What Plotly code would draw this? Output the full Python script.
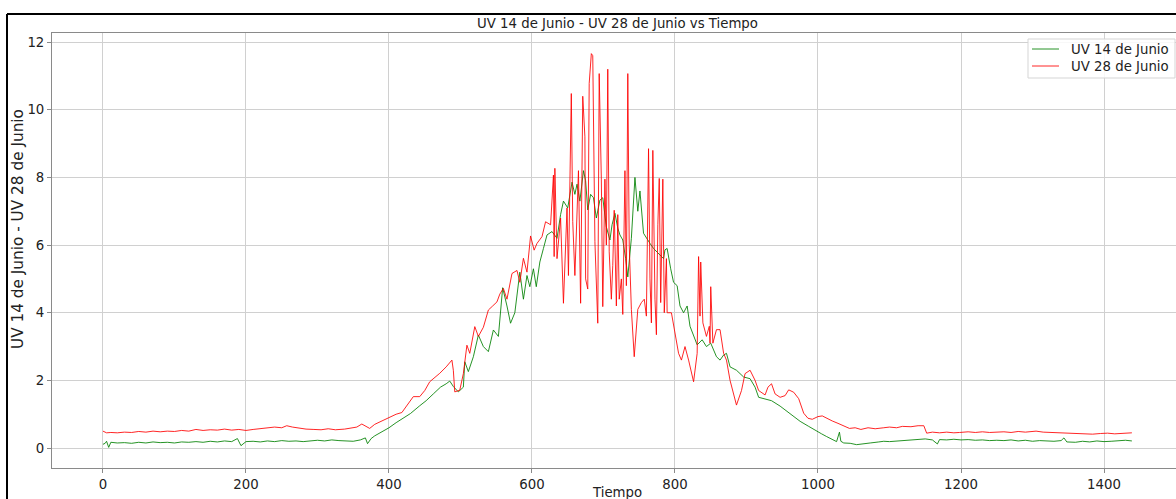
import plotly.graph_objects as go

# ---- data ----
tiempo_14 = [0, 3, 5, 8, 11, 20, 30, 40, 50, 60, 70, 80, 90, 100, 110, 120, 130, 140, 150, 160, 170, 180, 188, 193,
             200, 210, 220, 230, 240, 250, 260, 270, 280, 290, 300, 310, 320, 330, 340, 350, 360, 367, 370, 375,
             380, 390, 400, 410, 420, 430, 443, 452, 462, 472, 480, 485, 490, 497, 504, 506, 511, 518, 525, 532,
             539, 546, 553, 559, 565, 570, 576, 583, 588, 593, 597, 602, 606, 611, 616, 621, 628, 635, 640, 644,
             650, 656, 660, 663, 667, 672, 675, 678, 682, 686, 690, 695, 699, 704, 709, 712, 716, 720, 723, 727,
             731, 734, 739, 744, 748, 751, 756, 760, 765, 770, 777, 784, 786, 789, 794, 798, 803, 807, 812, 817,
             821, 826, 831, 838, 844, 850, 854, 858, 863, 868, 872, 877, 886, 896, 905, 912, 917, 926, 935, 947,
             956, 966, 975, 987, 998, 1005, 1012, 1020, 1026, 1030, 1032, 1036, 1045, 1054, 1062, 1073, 1085, 1092,
             1100, 1110, 1120, 1130, 1140, 1150, 1160, 1167, 1170, 1180, 1190, 1200, 1210, 1220, 1230, 1240, 1250,
             1260, 1270, 1280, 1290, 1300, 1310, 1320, 1330, 1340, 1344, 1348, 1360, 1370, 1380, 1390, 1400, 1410,
             1420, 1430, 1439]
uv_14 = [0.11, 0.14, 0.2, 0.02, 0.17, 0.15, 0.16, 0.14, 0.17, 0.15, 0.18, 0.16, 0.17, 0.15, 0.18, 0.17, 0.19, 0.17,
         0.2, 0.18, 0.21, 0.19, 0.28, 0.07, 0.19, 0.2, 0.18, 0.21, 0.19, 0.22, 0.2, 0.21, 0.19, 0.22, 0.23, 0.21,
         0.24, 0.22, 0.21, 0.2, 0.24, 0.3, 0.13, 0.28, 0.36, 0.48, 0.6, 0.75, 0.88, 1.02, 1.25, 1.4, 1.6, 1.8, 1.9,
         1.98, 1.82, 1.66, 1.8, 2.55, 2.26, 2.7, 3.34, 3.0, 2.85, 3.49, 3.3, 4.74, 4.2, 3.69, 4.0, 5.2, 4.4, 5.1,
         4.77, 5.3, 4.77, 5.5, 5.9, 6.3, 6.4, 6.2, 6.9, 7.3, 7.1, 7.86, 7.5, 7.8, 7.3, 8.2, 7.9, 7.04, 7.5, 7.4,
         6.8, 7.33, 7.4, 6.54, 6.15, 6.6, 6.94, 6.5, 6.3, 6.15, 5.6, 5.06, 6.2, 8.0, 7.0, 7.6, 6.35, 6.2, 6.05,
         5.9, 5.75, 5.6, 5.86, 5.9, 5.3, 4.9, 4.8, 4.2, 4.0, 4.2, 3.6, 3.3, 3.05, 3.2, 3.0, 3.1, 2.9, 2.7, 2.6,
         2.75, 2.8, 2.4, 2.3, 2.1, 2.05, 1.8, 1.5, 1.45, 1.4, 1.24, 1.1, 0.94, 0.79, 0.64, 0.49, 0.42, 0.34, 0.26,
         0.19, 0.47, 0.2, 0.15, 0.14, 0.1, 0.13, 0.15, 0.18, 0.2, 0.19, 0.21, 0.22, 0.24, 0.25, 0.27, 0.24, 0.12,
         0.25, 0.24, 0.26, 0.24, 0.25, 0.23, 0.24, 0.22, 0.23, 0.22, 0.24, 0.21, 0.23, 0.2, 0.22, 0.21, 0.2, 0.22,
         0.3, 0.18, 0.17, 0.2, 0.18, 0.21, 0.19, 0.2, 0.21, 0.23, 0.21]

tiempo_28 = [0, 5, 11, 20, 30, 40, 50, 60, 70, 80, 90, 100, 110, 120, 130, 140, 150, 160, 170, 180, 190, 200, 210,
             220, 230, 240, 250, 257, 265, 275, 284, 295, 305, 315, 325, 338, 345, 355, 362, 368, 373, 380, 390,
             400, 410, 418, 425, 434, 443, 450, 457, 465, 471, 480, 488, 490, 492, 499, 504, 509, 513, 520, 525,
             532, 539, 545, 551, 555, 560, 565, 572, 579, 583, 588, 593, 598, 603, 607, 614, 619, 626, 630, 631,
             632, 635, 640, 644, 649, 651, 655, 657, 660, 665, 668, 671, 674, 675, 678, 680, 683, 685, 688, 690,
             692, 694, 697, 699, 702, 704, 706, 708, 711, 713, 715, 718, 720, 722, 725, 727, 730, 732, 734, 736,
             739, 743, 748, 753, 757, 760, 763, 765, 767, 769, 772, 774, 776, 778, 780, 783, 785, 788, 789, 795,
             800, 805, 809, 814, 819, 826, 831, 833, 835, 836, 839, 844, 848, 849, 850, 853, 858, 863, 868, 872,
             877, 882, 886, 893, 898, 905, 912, 917, 926, 930, 935, 940, 947, 954, 959, 966, 973, 980, 986, 992,
             1000, 1006, 1012, 1020, 1028, 1036, 1044, 1052, 1060, 1070, 1080, 1092, 1100, 1110, 1118, 1130,
             1140, 1148, 1152, 1160, 1170, 1180, 1190, 1198, 1210, 1220, 1230, 1240, 1251, 1260, 1270, 1280,
             1290, 1305, 1315, 1325, 1340, 1358, 1370, 1384, 1395, 1405, 1415, 1425, 1435, 1439]
uv_28 = [0.5, 0.45, 0.46, 0.45, 0.47, 0.46, 0.49, 0.47, 0.5, 0.48, 0.5, 0.49, 0.52, 0.5, 0.55, 0.52, 0.54, 0.53,
         0.56, 0.53, 0.55, 0.52, 0.55, 0.58, 0.6, 0.62, 0.6, 0.66, 0.62, 0.58, 0.56, 0.55, 0.54, 0.57, 0.54, 0.56,
         0.58, 0.62, 0.71, 0.65, 0.58, 0.7, 0.8, 0.9, 1.0, 1.05, 1.25, 1.52, 1.52, 1.7, 1.96, 2.1, 2.21, 2.4, 2.6,
         2.3, 1.66, 1.71, 2.2, 3.04, 2.8, 3.59, 3.3, 3.57, 4.08, 4.2, 4.32, 4.55, 4.72, 4.4, 5.16, 5.25, 4.9, 5.61,
         5.2, 6.27, 5.85, 6.05, 6.25, 6.69, 6.6, 8.07, 5.66, 8.27, 5.6, 6.8, 4.28, 7.1, 5.1, 10.48, 6.7, 5.1, 8.2,
         4.28, 10.4, 9.2, 5.0, 4.7, 10.78, 11.66, 11.6, 6.1, 5.0, 3.69, 11.07, 7.95, 4.18, 7.95, 6.0, 11.2, 5.8,
         4.4, 5.4, 7.03, 4.2, 6.9, 4.4, 5.0, 3.95, 8.2, 4.8, 11.07, 6.0, 4.1, 2.7, 4.1, 4.3, 4.4, 3.9, 8.85, 5.0,
         3.7, 8.8, 4.4, 3.35, 6.6, 7.97, 4.3, 7.95, 4.0, 5.6, 4.0, 4.0, 3.4, 2.8, 2.6, 3.0, 2.6, 1.96, 2.8, 5.66,
         3.9, 5.5, 3.7, 3.3, 3.6, 3.1, 4.77, 3.1, 3.5, 3.5, 2.8, 2.6, 2.0, 1.6, 1.27, 1.7, 2.2, 2.3, 2.0, 1.7,
         1.57, 1.8, 1.9, 1.6, 1.5, 1.55, 1.72, 1.65, 1.46, 1.03, 0.88, 0.85, 0.93, 0.95, 0.88, 0.8, 0.73, 0.65,
         0.58, 0.6, 0.55, 0.6, 0.57, 0.6, 0.62, 0.6, 0.64, 0.63, 0.66, 0.66, 0.44, 0.47, 0.45, 0.47, 0.45, 0.46,
         0.48, 0.46, 0.48, 0.46, 0.47, 0.48, 0.46, 0.49, 0.47, 0.5, 0.47, 0.46, 0.45, 0.44, 0.43, 0.41, 0.43,
         0.44, 0.42, 0.44, 0.44, 0.45]

series_names = ["UV 14 de Junio", "UV 28 de Junio"]
series_colors = ["rgba(0,128,0,0.85)", "rgba(255,0,0,0.85)"]
x_ticks = [0, 200, 400, 600, 800, 1000, 1200, 1400]
y_ticks = [0, 2, 4, 6, 8, 10, 12]
title_text = "UV 14 de Junio - UV 28 de Junio vs Tiempo"
x_label = "Tiempo"
y_label = "UV 14 de Junio - UV 28 de Junio"

# ---- layout geometry (pixels) ----
W, H = 1176, 499
L, R, T, B = 52, 1176, 33, 468
PW, PH = R - L, B - T


def px(x):
    return (x - L) / PW


def py(y):
    return (B - y) / PH


FONT = "DejaVu Sans"
TXT = "#222"
fig = go.Figure()
fig.add_trace(go.Scatter(x=tiempo_14, y=uv_14, mode="lines", name=series_names[0],
                         line=dict(color=series_colors[0], width=1), showlegend=False))
fig.add_trace(go.Scatter(x=tiempo_28, y=uv_28, mode="lines", name=series_names[1],
                         line=dict(color=series_colors[1], width=1), showlegend=False))

axis_common = dict(showgrid=True, gridcolor="#d0d0d0", gridwidth=1, zeroline=False,
                   showline=True, linecolor="#8a8a8a", linewidth=1, ticks="outside",
                   ticklen=4, tickcolor="#8a8a8a",
                   tickfont=dict(family=FONT, size=13.3, color=TXT))
fig.update_xaxes(range=[-71.3, 1500.7], tickvals=x_ticks, mirror=True, **axis_common)
fig.update_yaxes(range=[-0.59, 12.27], tickvals=y_ticks, **axis_common)

# legend (matplotlib-style box, drawn in pixel positions)
leg_box = dict(type="rect", xref="paper", yref="paper", x0=px(1028), x1=px(1175), y0=py(78), y1=py(39),
               line=dict(color="#d5d5d5", width=1), fillcolor="rgba(255,255,255,0.85)", layer="above")
leg_rows = [49, 66]
shapes = [leg_box]
annotations = []
for name, color, row in zip(series_names, series_colors, leg_rows):
    shapes.append(dict(type="line", xref="paper", yref="paper", x0=px(1032), x1=px(1059),
                       y0=py(row), y1=py(row), line=dict(color=color, width=1)))
    annotations.append(dict(text=name, x=px(1069), y=py(row), xref="paper", yref="paper",
                            showarrow=False, xanchor="left", yanchor="middle",
                            font=dict(family=FONT, size=13.3, color=TXT)))

# figure frame
shapes += [
    dict(type="line", xref="paper", yref="paper", x0=px(7), x1=px(7), y0=py(14), y1=py(H + 5),
         line=dict(color="black", width=2)),
    dict(type="line", xref="paper", yref="paper", x0=px(7), x1=px(W + 5), y0=py(14), y1=py(14),
         line=dict(color="black", width=2)),
]

annotations += [
    dict(text=title_text, x=px(617), y=py(23), xref="paper", yref="paper",
         showarrow=False, font=dict(family=FONT, size=13.3, color=TXT),
         xanchor="center", yanchor="middle"),
    dict(text=x_label, x=px(617), y=py(492), xref="paper", yref="paper",
         showarrow=False, font=dict(family=FONT, size=13.3, color=TXT),
         xanchor="center", yanchor="middle"),
    dict(text=y_label, x=px(18), y=py(229), xref="paper", yref="paper",
         showarrow=False, textangle=-90, font=dict(family=FONT, size=15.3, color=TXT),
         xanchor="center", yanchor="middle"),
]

fig.update_layout(
    width=W, height=H,
    margin=dict(l=L, r=W - R, t=T, b=H - B, autoexpand=False),
    paper_bgcolor="white", plot_bgcolor="white",
    showlegend=False,
    annotations=annotations,
    shapes=shapes,
)

fig.write_html("out.html")
